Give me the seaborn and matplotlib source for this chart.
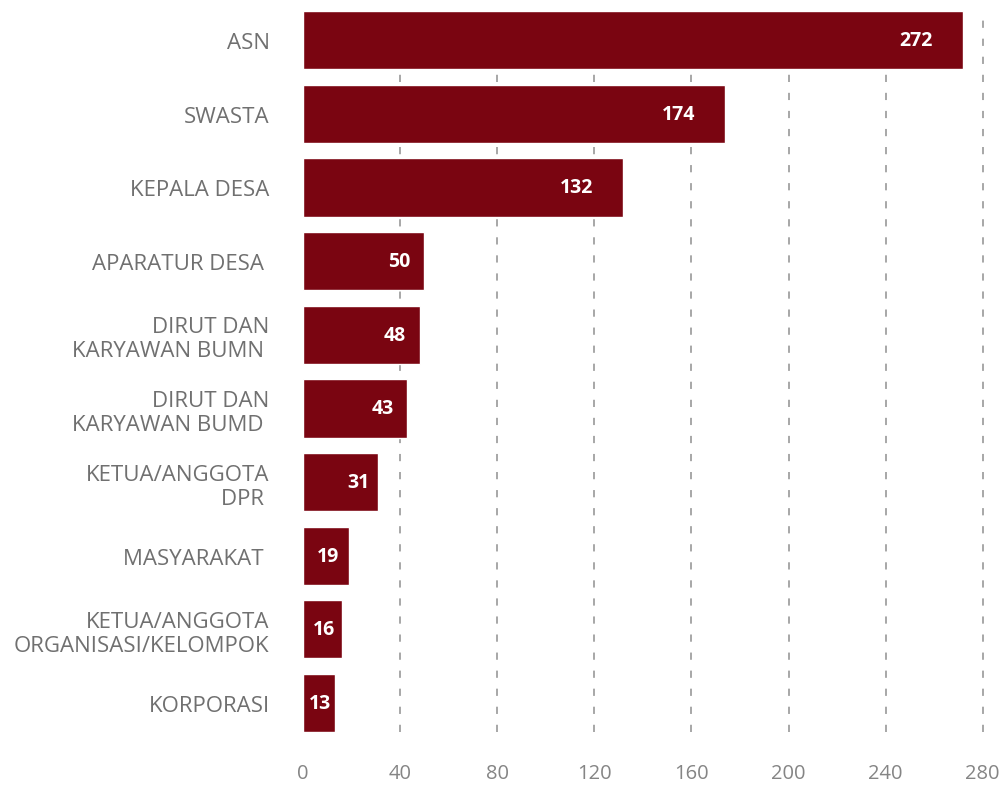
import matplotlib
matplotlib.use("Agg")
import matplotlib.pyplot as plt
import seaborn as sns
import pandas as pd

categories = ["ASN", "SWASTA", "KEPALA DESA", "APARATUR DESA ", "DIRUT DAN\nKARYAWAN BUMN ",
              "DIRUT DAN\nKARYAWAN BUMD ", "KETUA/ANGGOTA\nDPR ", "MASYARAKAT ",
              "KETUA/ANGGOTA\nORGANISASI/KELOMPOK", "KORPORASI"]
values = [272, 174, 132, 50, 48, 43, 31, 19, 16, 13]
xticks = [0, 40, 80, 120, 160, 200, 240, 280]

sns.set_theme(style="white")
plt.rcParams['font.family'] = ['Open Sans', 'DejaVu Sans']

df = pd.DataFrame({"cat": categories, "val": values})

fig = plt.figure(figsize=(10, 8.03), dpi=100)
ax = fig.add_axes([0.303, 0.087, 0.687, 0.898])

sns.barplot(data=df, x="val", y="cat", orient="h", color="#7A0511",
            saturation=1, width=0.79, ax=ax, zorder=3)

ax.set_xlim(0, 283)
ax.set_ylim(len(categories) - 1 + 0.395, -0.395)
ax.set_xticks(xticks)
ax.set_xticklabels([str(t) for t in xticks])
ax.xaxis.grid(True, linestyle=(0, (4, 6)), color="#a0a0a0", linewidth=1.3, zorder=0)
ax.xaxis.get_gridlines()[0].set_visible(False)
ax.yaxis.grid(False)
for s in ax.spines.values():
    s.set_visible(False)
ax.tick_params(axis="x", length=0, pad=22, labelsize=14.5, labelcolor="#858585")
ax.tick_params(axis="y", length=0, pad=24, labelsize=16, labelcolor="#707070")
for lab in ax.get_yticklabels():
    lab.set_horizontalalignment("right")
    lab.set_multialignment("right")
ax.set_xlabel("")
ax.set_ylabel("")

for i, v in enumerate(values):
    if v > 40:
        ax.annotate(str(v), xy=(v, i), xytext=(-10 if v < 100 else -22, 0),
                    textcoords="offset points", ha="right", va="center",
                    color="white", fontweight="bold", fontsize=14, zorder=4)
    else:
        ax.annotate(str(v), xy=(v * 0.55 if v < 25 else v - 8, i), xytext=(0, 0),
                    textcoords="offset points", ha="center", va="center",
                    color="white", fontweight="bold", fontsize=14, zorder=4)

fig.savefig("out.png", dpi=100)
